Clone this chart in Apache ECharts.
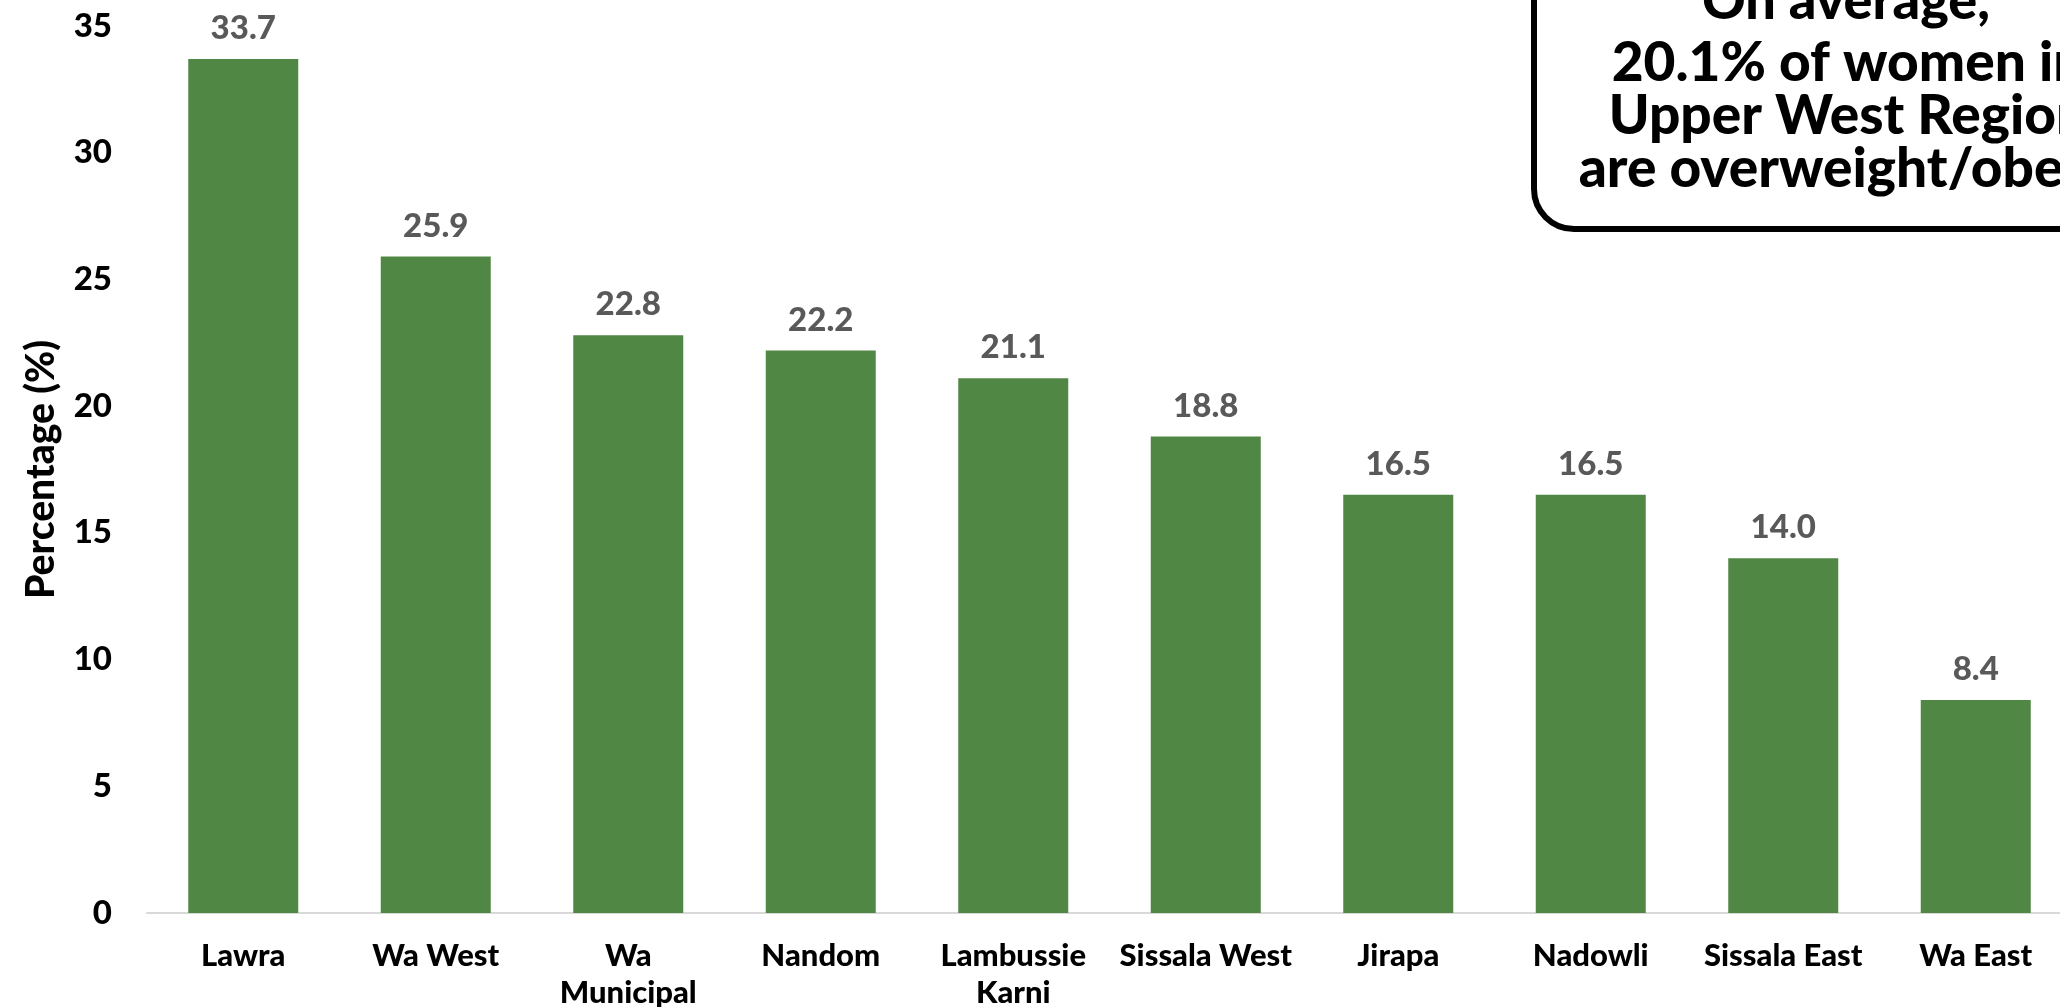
<!DOCTYPE html>
<html>
<head>
<meta charset="utf-8">
<script src="https://cdn.jsdelivr.net/npm/echarts@6/dist/echarts.min.js"></script>
<style>
  html, body { margin: 0; padding: 0; background: #fff; }
  #chart { width: 2060px; height: 1007px; }
</style>
</head>
<body>
<div id="chart"></div>
<script>
// districts of the Upper West Region
var districts = ['Lawra', 'Wa West', 'Wa\nMunicipal', 'Nandom', 'Lambussie\nKarni',
  'Sissala West', 'Jirapa', 'Nadowli', 'Sissala East', 'Wa East'];
var overweightPct = [33.7, 25.9, 22.8, 22.2, 21.1, 18.8, 16.5, 16.5, 14.0, 8.4];
var yTicks = [0, 5, 10, 15, 20, 25, 30, 35];
var noteHead = 'On average,';
var noteLines = ['20.1% of women in', 'Upper West Region', 'are overweight/obese'];

var font = 'Lato';
var weight = 900;
var chart = echarts.init(document.getElementById('chart'));

var option = {
  backgroundColor: '#fff',
  animation: false,
  grid: {
    left: 147,
    right: -12,
    top: 26,
    bottom: 94,
    containLabel: false,
    outerBoundsMode: 'none'
  },
  xAxis: {
    type: 'category',
    data: districts,
    axisLine: { lineStyle: { color: '#d9d9d9', width: 2 } },
    axisTick: { show: false },
    axisLabel: {
      interval: 0,
      margin: 24,
      color: '#000',
      fontFamily: font,
      fontWeight: weight,
      fontSize: 31,
      lineHeight: 37
    }
  },
  yAxis: {
    type: 'value',
    min: yTicks[0],
    max: yTicks[yTicks.length - 1],
    interval: 5,
    name: 'Percentage (%)',
    nameLocation: 'middle',
    nameRotate: 90,
    nameGap: 86,
    nameTextStyle: {
      color: '#000',
      fontFamily: font,
      fontWeight: weight,
      fontSize: 39
    },
    axisLine: { show: false },
    axisTick: { show: false },
    splitLine: { show: false },
    axisLabel: {
      margin: 35,
      color: '#000',
      fontFamily: font,
      fontWeight: weight,
      fontSize: 33
    }
  },
  series: [{
    type: 'bar',
    data: overweightPct,
    barWidth: 110,
    itemStyle: { color: '#508744' },
    label: {
      show: true,
      position: 'top',
      distance: 14,
      color: '#595959',
      fontFamily: font,
      fontWeight: weight,
      fontSize: 33,
      formatter: function (p) { return p.value.toFixed(1); }
    }
  }],
  graphic: [{
    type: 'group',
    left: 1531,
    top: -74,
    children: [{
      type: 'rect',
      shape: { x: 0, y: 0, width: 700, height: 300, r: 40 },
      style: { fill: '#fff', stroke: '#000', lineWidth: 6 }
    }, {
      type: 'text',
      x: 312,
      y: 100,
      style: {
        text: noteHead,
        fill: '#000',
        font: weight + ' 54px ' + font,
        align: 'center',
        verticalAlign: 'bottom'
      }
    }, {
      type: 'text',
      x: 314,
      y: 108,
      style: {
        text: noteLines.join('\n'),
        fill: '#000',
        font: weight + ' 55px ' + font,
        lineHeight: 53,
        align: 'center',
        verticalAlign: 'top'
      }
    }]
  }]
};

chart.setOption(option);
</script>
</body>
</html>
